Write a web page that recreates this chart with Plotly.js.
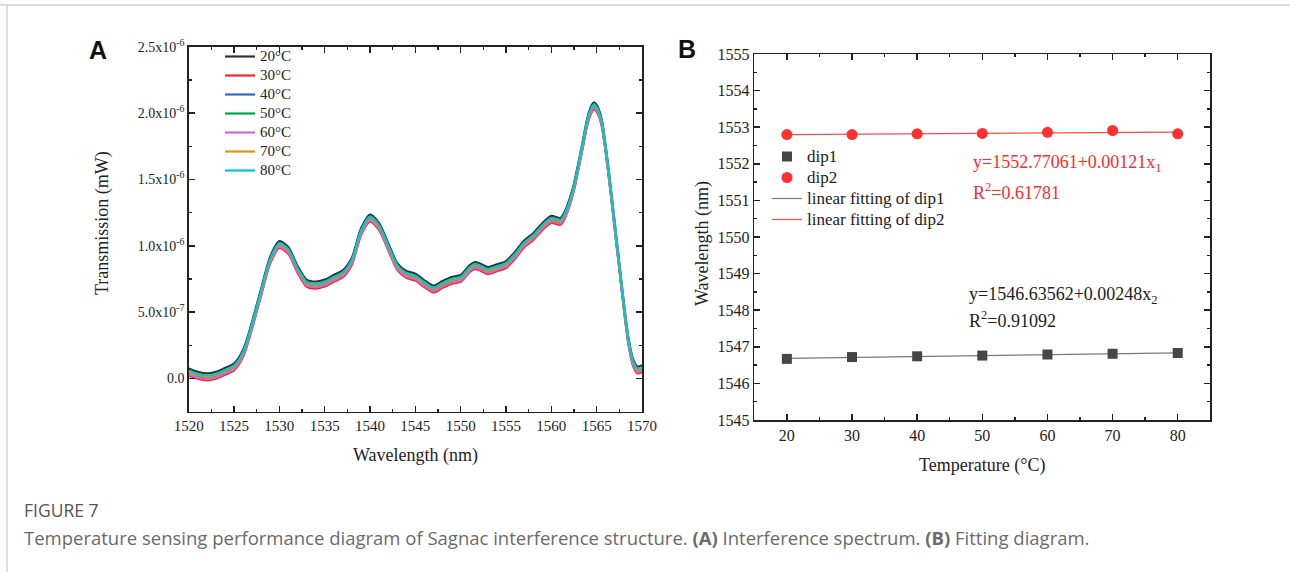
<!DOCTYPE html>
<html>
<head>
<meta charset="utf-8">
<script src="https://cdn.plot.ly/plotly-3.0.1.min.js"></script>
<style>
html,body{margin:0;padding:0;background:#fff;}
#chart{width:1290px;height:572px;}
</style>
</head>
<body>
<div id="chart"></div>
<script>
// ---------- Panel A: interference spectrum (transmission in nW = 1e-6 mW) ----------
const wavelength = [1520,1521,1522,1523,1524,1525,1526,1527,1528,1529,1530,1531,1532,1533,1534,1535,1536,1537,1538,1539,1540,1541,1542,1543,1544,1545,1546,1547,1548,1549,1550,1551,1551.5,1552,1553,1554,1555,1556,1557,1558,1559,1560,1561,1561.5,1562,1562.5,1563,1563.5,1564,1564.5,1564.7,1565,1565.5,1566,1566.5,1567,1567.5,1568,1568.5,1569,1569.5,1570];

const t20 = [0.075,0.050,0.038,0.050,0.080,0.113,0.215,0.430,0.680,0.920,1.035,0.990,0.850,0.745,0.730,0.745,0.780,0.815,0.910,1.130,1.235,1.170,1.020,0.870,0.810,0.790,0.740,0.700,0.735,0.765,0.780,0.855,0.876,0.870,0.840,0.860,0.885,0.955,1.040,1.095,1.170,1.225,1.210,1.260,1.350,1.470,1.630,1.800,1.970,2.065,2.080,2.060,1.970,1.750,1.470,1.170,0.870,0.570,0.310,0.150,0.090,0.100];
const t30 = [0.023,-0.002,-0.014,-0.002,0.028,0.061,0.163,0.378,0.628,0.868,0.983,0.938,0.798,0.693,0.678,0.693,0.728,0.763,0.858,1.078,1.183,1.118,0.968,0.818,0.758,0.738,0.688,0.648,0.683,0.713,0.728,0.803,0.824,0.818,0.788,0.808,0.833,0.903,0.988,1.043,1.118,1.173,1.158,1.208,1.298,1.418,1.578,1.748,1.918,2.013,2.028,2.008,1.918,1.698,1.418,1.118,0.818,0.518,0.258,0.098,0.038,0.048];
const t40 = [0.040,0.015,0.003,0.015,0.045,0.078,0.180,0.395,0.645,0.885,1.000,0.955,0.815,0.710,0.695,0.710,0.745,0.780,0.875,1.095,1.200,1.135,0.985,0.835,0.775,0.755,0.705,0.665,0.700,0.730,0.745,0.820,0.841,0.835,0.805,0.825,0.850,0.920,1.005,1.060,1.135,1.190,1.175,1.225,1.315,1.435,1.595,1.765,1.935,2.030,2.045,2.025,1.935,1.715,1.435,1.135,0.835,0.535,0.275,0.115,0.055,0.065];
const t50 = [0.045,0.020,0.008,0.020,0.050,0.083,0.185,0.400,0.650,0.890,1.005,0.960,0.820,0.715,0.700,0.715,0.750,0.785,0.880,1.100,1.205,1.140,0.990,0.840,0.780,0.760,0.710,0.670,0.705,0.735,0.750,0.825,0.846,0.840,0.810,0.830,0.855,0.925,1.010,1.065,1.140,1.195,1.180,1.230,1.320,1.440,1.600,1.770,1.940,2.035,2.050,2.030,1.940,1.720,1.440,1.140,0.840,0.540,0.280,0.120,0.060,0.070];
const t60 = [0.033,0.008,-0.004,0.008,0.038,0.071,0.173,0.388,0.638,0.878,0.993,0.948,0.808,0.703,0.688,0.703,0.738,0.773,0.868,1.088,1.193,1.128,0.978,0.828,0.768,0.748,0.698,0.658,0.693,0.723,0.738,0.813,0.834,0.828,0.798,0.818,0.843,0.913,0.998,1.053,1.128,1.183,1.168,1.218,1.308,1.428,1.588,1.758,1.928,2.023,2.038,2.018,1.928,1.708,1.428,1.128,0.828,0.528,0.268,0.108,0.048,0.058];
const t70 = [0.050,0.025,0.013,0.025,0.055,0.088,0.190,0.405,0.655,0.895,1.010,0.965,0.825,0.720,0.705,0.720,0.755,0.790,0.885,1.105,1.210,1.145,0.995,0.845,0.785,0.765,0.715,0.675,0.710,0.740,0.755,0.830,0.851,0.845,0.815,0.835,0.860,0.930,1.015,1.070,1.145,1.200,1.185,1.235,1.325,1.445,1.605,1.775,1.945,2.040,2.055,2.035,1.945,1.725,1.445,1.145,0.845,0.545,0.285,0.125,0.065,0.075];
const t80 = [0.060,0.035,0.023,0.035,0.065,0.098,0.200,0.415,0.665,0.905,1.020,0.975,0.835,0.730,0.715,0.730,0.765,0.800,0.895,1.115,1.220,1.155,1.005,0.855,0.795,0.775,0.725,0.685,0.720,0.750,0.765,0.840,0.861,0.855,0.825,0.845,0.870,0.940,1.025,1.080,1.155,1.210,1.195,1.245,1.335,1.455,1.615,1.785,1.955,2.050,2.065,2.045,1.955,1.735,1.455,1.155,0.855,0.555,0.295,0.135,0.075,0.085];

const spectrumNames = ['20°C','30°C','40°C','50°C','60°C','70°C','80°C'];
const spectrumSeries = [t20,t30,t40,t50,t60,t70,t80];
const spectrumColors = ['#333333','#ff2424','#2366e8','#00a346','#c46be0','#e8900a','#00c8d2'];

const yTickValsA = [0,0.5,1.0,1.5,2.0,2.5];
const yTickTextA = ['0.0','5.0x10<sup>-7</sup>','1.0x10<sup>-6</sup>','1.5x10<sup>-6</sup>','2.0x10<sup>-6</sup>','2.5x10<sup>-6</sup>'];

// ---------- Panel B: dip wavelength vs temperature ----------
const temperature = [20,30,40,50,60,70,80];
const dip1 = [1546.67,1546.72,1546.74,1546.76,1546.79,1546.81,1546.83];
const dip2 = [1552.80,1552.80,1552.82,1552.83,1552.86,1552.91,1552.82];
const fit1Coef = [1546.63562,0.00248]; // intercept, slope
const fit2Coef = [1552.77061,0.00121];
const fitRange = [20,80];
const legendNamesB = ['dip1','dip2','linear fitting of dip1','linear fitting of dip2'];

const F = 'Liberation Serif, Times New Roman, serif';
const INK = '#222222';
const big = (t,s) => '<span style="font-size:'+s+'px">'+t+'</span>';

const traces = [];
spectrumSeries.forEach((s,i)=>{
  traces.push({
    x: wavelength, y: s, type:'scatter', mode:'lines', name: big(spectrumNames[i],15),
    line:{color: spectrumColors[i], width:2.2, shape:'spline', smoothing:0.7},
    xaxis:'x', yaxis:'y', legend:'legend'
  });
});

traces.push({
  x: fitRange, y: fitRange.map(t=>fit1Coef[0]+fit1Coef[1]*t), type:'scatter', mode:'lines',
  name: big(legendNamesB[2],17), line:{color:'#7a7a7a', width:1.2}, xaxis:'x2', yaxis:'y2', legend:'legend2', legendrank:3
});
traces.push({
  x: fitRange, y: fitRange.map(t=>fit2Coef[0]+fit2Coef[1]*t), type:'scatter', mode:'lines',
  name: big(legendNamesB[3],17), line:{color:'#ff4a4a', width:1.2}, xaxis:'x2', yaxis:'y2', legend:'legend2', legendrank:4
});
traces.push({
  x: temperature, y: dip1, type:'scatter', mode:'markers', name: big(legendNamesB[0],17),
  marker:{symbol:'square', size:10, color:'#464646'}, xaxis:'x2', yaxis:'y2', legend:'legend2', legendrank:1
});
traces.push({
  x: temperature, y: dip2, type:'scatter', mode:'markers', name: big(legendNamesB[1],17),
  marker:{symbol:'circle', size:11, color:'#ff3030'}, xaxis:'x2', yaxis:'y2', legend:'legend2', legendrank:2
});

const W = 1290, H = 572;
const px = v => v/W;
const py = v => (H - v)/H;

const baseAxis = {
  showline:true, linewidth:1.5, linecolor:INK, mirror:'allticks',
  ticks:'inside', ticklen:6, tickwidth:1.5, tickcolor:INK,
  showgrid:false, zeroline:false, automargin:false,
  tickfont:{family:F, size:15, color:INK}
};

const layout = {
  width:W, height:H, margin:{l:0,r:0,t:0,b:0},
  paper_bgcolor:'#ffffff', plot_bgcolor:'#ffffff',
  font:{family:F, color:INK},
  showlegend:true,
  xaxis: Object.assign({}, baseAxis, {
    domain:[px(188.7), px(642)], range:[1520,1570], tick0:1520, dtick:5, anchor:'y',
    minor:{ticks:'inside', ticklen:3, tickwidth:1.5, tickcolor:INK, dtick:2.5, tick0:1520, showgrid:false}
  }),
  yaxis: Object.assign({}, baseAxis, {
    domain:[py(411.7), py(46.7)], range:[-0.25,2.5], tickmode:'array', tickvals:yTickValsA, ticktext:yTickTextA, anchor:'x',
    tickfont:{family:F, size:14, color:INK},
    minor:{ticks:'inside', ticklen:3, tickwidth:1.5, tickcolor:INK, tickmode:'array', tickvals:[-0.25,0.25,0.75,1.25,1.75,2.25], showgrid:false}
  }),
  xaxis2: Object.assign({}, baseAxis, {
    domain:[px(754.3), px(1210.3)], range:[15,85], tick0:20, dtick:10, anchor:'y2',
    tickfont:{family:F, size:16, color:INK},
    minor:{ticks:'inside', ticklen:3, tickwidth:1.5, tickcolor:INK, dtick:5, tick0:15, showgrid:false}
  }),
  yaxis2: Object.assign({}, baseAxis, {
    domain:[py(420), py(54)], range:[1545,1555], tick0:1545, dtick:1, anchor:'x2',
    tickfont:{family:F, size:16, color:INK},
    minor:{ticks:'inside', ticklen:3, tickwidth:1.5, tickcolor:INK, dtick:0.5, tick0:1545, showgrid:false}
  }),
  legend:{
    x:px(220), y:py(42), xanchor:'left', yanchor:'top', bgcolor:'rgba(0,0,0,0)', borderwidth:0,
    font:{family:F, size:12.3, color:INK}, tracegroupgap:0
  },
  legend2:{
    x:px(767), y:py(141), xanchor:'left', yanchor:'top', bgcolor:'rgba(0,0,0,0)', borderwidth:0,
    font:{family:F, size:13.85, color:INK}, tracegroupgap:0
  },
  annotations:[
    {text:'Wavelength (nm)', x:px(415), y:py(455), xref:'paper', yref:'paper', showarrow:false, xanchor:'center', yanchor:'middle', font:{family:F, size:18, color:INK}},
    {text:'Transmission (mW)', x:px(102), y:py(223), xref:'paper', yref:'paper', showarrow:false, textangle:-90, xanchor:'center', yanchor:'middle', font:{family:F, size:18, color:INK}},
    {text:'Temperature (°C)', x:px(982), y:py(465), xref:'paper', yref:'paper', showarrow:false, xanchor:'center', yanchor:'middle', font:{family:F, size:18, color:INK}},
    {text:'Wavelength (nm)', x:px(702), y:py(244), xref:'paper', yref:'paper', showarrow:false, textangle:-90, xanchor:'center', yanchor:'middle', font:{family:F, size:18, color:INK}},
    {text:'y=1552.77061+0.00121x<sub>1</sub>', x:px(971), y:py(163), xref:'paper', yref:'paper', showarrow:false, xanchor:'left', yanchor:'middle', font:{family:F, size:18, color:'#ff2a2a'}},
    {text:'R<sup>2</sup>=0.61781', x:px(971), y:py(191), xref:'paper', yref:'paper', showarrow:false, xanchor:'left', yanchor:'middle', font:{family:F, size:18, color:'#ff2a2a'}},
    {text:'y=1546.63562+0.00248x<sub>2</sub>', x:px(967), y:py(295), xref:'paper', yref:'paper', showarrow:false, xanchor:'left', yanchor:'middle', font:{family:F, size:18, color:INK}},
    {text:'R<sup>2</sup>=0.91092', x:px(967), y:py(320), xref:'paper', yref:'paper', showarrow:false, xanchor:'left', yanchor:'middle', font:{family:F, size:18, color:INK}},
    {text:'<b>A</b>', x:px(98), y:py(50), xref:'paper', yref:'paper', showarrow:false, xanchor:'center', yanchor:'middle', font:{family:'Liberation Sans, Arial, sans-serif', size:25, color:'#111'}},
    {text:'<b>B</b>', x:px(687), y:py(49), xref:'paper', yref:'paper', showarrow:false, xanchor:'center', yanchor:'middle', font:{family:'Liberation Sans, Arial, sans-serif', size:25, color:'#111'}},
    {text:'FIGURE 7', x:px(22), y:py(510), xref:'paper', yref:'paper', showarrow:false, xanchor:'left', yanchor:'middle', font:{family:'Open Sans, Noto Sans, sans-serif', size:17.5, color:'#555555'}},
    {text:'Temperature sensing performance diagram of Sagnac interference structure. <b>(A)</b> Interference spectrum. <b>(B)</b> Fitting diagram.', x:px(22), y:py(537), xref:'paper', yref:'paper', showarrow:false, xanchor:'left', yanchor:'middle', font:{family:'Open Sans, Noto Sans, sans-serif', size:18.5, color:'#6a6a6a'}}
  ],
  shapes:[
    {type:'line', xref:'paper', yref:'paper', x0:0, x1:1, y0:py(5), y1:py(5), line:{color:'#d2d2d2', width:1.5}},
    {type:'line', xref:'paper', yref:'paper', x0:px(7), x1:px(7), y0:py(5), y1:0, line:{color:'#d2d2d2', width:1.5}}
  ]
};

Plotly.newPlot('chart', traces, layout, {displayModeBar:false, staticPlot:true});
</script>
</body>
</html>
